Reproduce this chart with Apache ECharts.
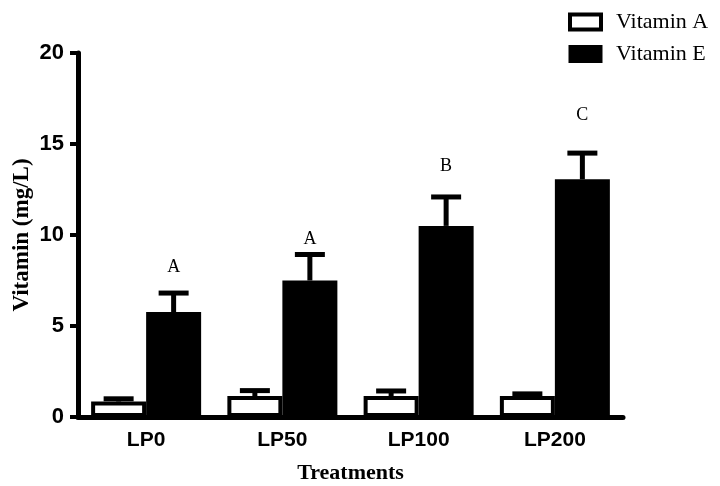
<!DOCTYPE html>
<html>
<head>
<meta charset="utf-8">
<script src="https://cdn.jsdelivr.net/npm/echarts@6/dist/echarts.min.js"></script>
<style>html,body{margin:0;padding:0;background:#fff}#c{width:720px;height:486px}</style>
</head>
<body>
<div id="c"></div>
<script>
const categories = ['LP0', 'LP50', 'LP100', 'LP200'];
const yTicks = [0, 5, 10, 15, 20];
const vitaminA = [0.85, 1.15, 1.15, 1.15];
const vitaminAErr = [0.15, 0.3, 0.28, 0.12];
const vitaminE = [5.77, 7.5, 10.5, 13.06];
const vitaminEErr = [1.04, 1.43, 1.59, 1.44];
const letters = ['A', 'A', 'B', 'C'];
const letterY = [8.2, 9.75, 13.75, 16.6];

const BAR_W = 55;
const chart = echarts.init(document.getElementById('c'));

function errRender(values, errs, side) {
  return function (params, api) {
    const i = api.value(0);
    const v = values[i], e = errs[i];
    const base = api.coord([i, v]);
    const top = api.coord([i, v + e]);
    const x = base[0] + side * BAR_W / 2;
    return {
      type: 'group',
      children: [
        { type: 'line', shape: { x1: x, y1: base[1], x2: x, y2: top[1] }, style: { stroke: '#000', lineWidth: 5 } },
        { type: 'line', shape: { x1: x - 15, y1: top[1], x2: x + 15, y2: top[1] }, style: { stroke: '#000', lineWidth: 5 } }
      ]
    };
  };
}

chart.setOption({
  animation: false,
  grid: { left: 78, right: 97, top: 53, bottom: 69, containLabel: false, outerBoundsMode: 'none' },
  legend: {
    orient: 'vertical',
    left: 563,
    top: 6,
    itemWidth: 31,
    itemHeight: 15,
    itemGap: 10,
    data: [
      { name: 'Vitamin A', icon: 'rect', itemStyle: { color: '#fff', borderColor: '#000', borderWidth: 4 } },
      { name: 'Vitamin E', icon: 'rect', itemStyle: { color: '#000', borderColor: '#000', borderWidth: 3 } }
    ],
    textStyle: { fontFamily: 'Liberation Serif', fontSize: 22, color: '#000', padding: [0, 0, 0, 10], lineHeight: 22 }
  },
  xAxis: {
    type: 'category',
    data: categories,
    axisLine: { lineStyle: { color: '#000', width: 5 } },
    axisTick: { alignWithLabel: true, length: 7, lineStyle: { color: '#000', width: 4 } },
    axisLabel: { color: '#000', fontFamily: 'Liberation Sans', fontWeight: 'bold', fontSize: 21, margin: 13 },
    name: 'Treatments',
    nameLocation: 'middle',
    nameGap: 45,
    nameMoveOverlap: false,
    nameTextStyle: { fontFamily: 'Liberation Serif', fontWeight: 'bold', fontSize: 22, color: '#000' }
  },
  yAxis: {
    type: 'value',
    min: yTicks[0],
    max: yTicks[yTicks.length - 1],
    interval: 5,
    splitLine: { show: false },
    axisLine: { show: true, lineStyle: { color: '#000', width: 5 } },
    axisTick: { show: true, length: 8, lineStyle: { color: '#000', width: 4 } },
    axisLabel: { color: '#000', fontFamily: 'Liberation Sans', fontWeight: 'bold', fontSize: 22, margin: 14 },
    name: 'Vitamin (mg/L)',
    nameLocation: 'middle',
    nameGap: 44,
    nameMoveOverlap: false,
    nameTextStyle: { fontFamily: 'Liberation Serif', fontWeight: 'bold', fontSize: 23, color: '#000' }
  },
  series: [
    {
      name: 'Vitamin A', type: 'bar', data: vitaminA, barWidth: BAR_W, barGap: '0%',
      itemStyle: { color: '#fff', borderColor: '#000', borderWidth: 4 }
    },
    {
      name: 'Vitamin E', type: 'bar', data: vitaminE, barWidth: BAR_W, barGap: '0%',
      itemStyle: { color: '#000', borderColor: '#000', borderWidth: 0 }
    },
    {
      type: 'custom', data: categories.map((c, i) => [i]), z: 5,
      renderItem: errRender(vitaminA, vitaminAErr, -1)
    },
    {
      type: 'custom', data: categories.map((c, i) => [i]), z: 5,
      renderItem: errRender(vitaminE, vitaminEErr, 1)
    },
    {
      type: 'custom', data: categories.map((c, i) => [i]), z: 6,
      renderItem: function (params, api) {
        const i = api.value(0);
        const p = api.coord([i, letterY[i]]);
        return {
          type: 'text',
          style: { x: p[0] + BAR_W / 2, y: p[1], text: letters[i], align: 'center', verticalAlign: 'middle',
                   font: '18px "Liberation Serif"', fill: '#000' }
        };
      }
    }
  ]
});
</script>
</body>
</html>
